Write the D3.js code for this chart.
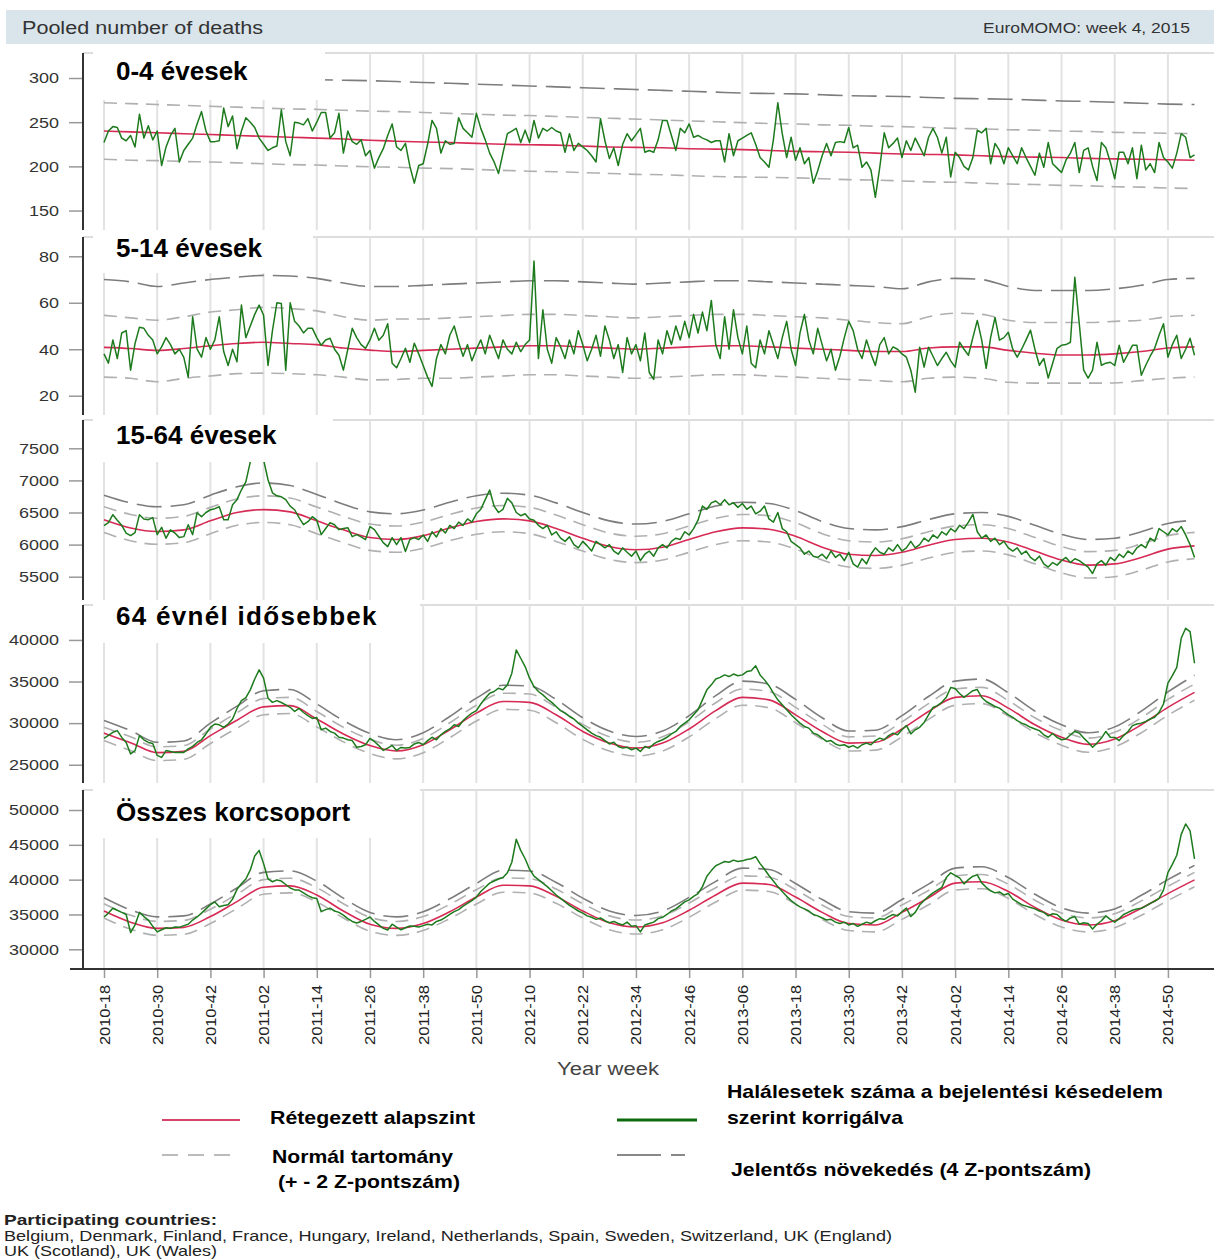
<!DOCTYPE html>
<html><head><meta charset="utf-8">
<script src="https://cdn.jsdelivr.net/npm/d3@7"></script>
<style>body{margin:0;background:#fff}svg{display:block;font-family:"Liberation Sans",Arial,sans-serif}</style>
</head><body><svg id="c" width="1214" height="1260"></svg>
<script>
// ---------- DATA ----------
const weekLabels = ["2010-18","2010-30","2010-42","2011-02","2011-14","2011-26","2011-38","2011-50","2012-10","2012-22","2012-34","2012-46","2013-06","2013-18","2013-30","2013-42","2014-02","2014-14","2014-26","2014-38","2014-50"];
// band/baseline samples taken every 6 weeks (week index 0..240) plus the last week 246
const bandWeeks = [0,6,12,18,24,30,36,42,48,54,60,66,72,78,84,90,96,102,108,114,120,126,132,138,144,150,156,162,168,174,180,186,192,198,204,210,216,222,228,234,240,246];

const deaths04 = [227,240,245,244,232,229,235,222,259,232,
246,230,240,201,222,235,243,205,218,225,
232,248,262,240,228,228,229,266,245,257,
220,240,255,250,244,232,225,218,221,223,
264,228,212,250,249,247,254,240,250,261,
261,232,238,260,215,240,228,225,230,212,
218,198,210,220,235,248,222,218,226,200,
181,201,203,225,252,243,215,229,225,226,
255,243,238,233,260,243,230,215,205,192,
215,237,240,243,227,241,227,252,232,243,
240,244,240,238,216,237,218,226,222,218,
212,205,254,229,209,221,201,225,237,229,
236,243,216,218,216,230,252,252,235,218,
243,238,248,233,235,232,230,227,229,229,
205,237,212,229,232,235,238,225,210,205,
199,230,272,237,210,233,207,221,203,210,
181,195,212,226,212,227,228,227,244,221,
224,199,205,196,165,199,238,221,226,232,
210,229,218,232,222,212,233,243,233,215,
233,188,216,210,200,196,210,241,238,243,
203,226,218,203,221,212,203,221,210,200,
190,215,199,227,203,198,193,207,215,227,
193,218,221,200,184,227,221,205,186,216,
216,203,221,186,224,196,203,193,227,210,
205,198,215,237,233,210,213];
const base04 = [240,239,238,237,236,235,234,233,232,231,229.5,228.5,227.5,227,226,225,224.5,224,223,222,221.5,221,220,219.5,219,218,217,216.5,216,215,214,213.5,213,212,211,210.5,210,209,208.5,208,207.5,207];
const hi2_04 = [272,271,270,269,268,267,266,265,264.5,263.5,262.5,262,261,260,259,258,257.5,256.5,255.5,254.5,253.5,252.5,251.5,250.5,249.5,248.5,248,247,246.5,245.5,245,244,243,242.5,241.5,241,240,239.5,238.5,238,237.5,237];
const lo2_04 = [208,207,206.5,205.5,205,204,203,202,201.5,200.5,199.5,199,198,197.5,196.5,195.5,194.5,194,193,192,191,190.5,189.5,188.5,188,187.5,187,186,185,184.5,183.5,182.5,182,181,180,179.5,178.5,178,177,176.5,175.5,175];
const hi4_04 = [305,304,303,302,301,300,299.5,299,298,297.5,297,296,295,294,293,292,291,290,289,288,287,286,285,284,283,282.5,282,281,280,279.5,279,278,277,276.5,276,275,274,273.5,272.5,271.5,270.5,270];

const deaths514 = [38,34,44,36,47,48,31,42.5,49.5,49,
46,44,38,41,45,42,38,40,36.5,28,
54,40,36.6,45,40,44,54,39,33,40,
34.6,59,45,50,55,59,54.6,33,48,60,
59.7,31,60,52,50,47,49,49,45,41.7,
44,44.7,40,37.4,31,40,49,45,42,40.4,
44,49,43.9,46,51,34,32,36,40.4,34.4,
42.6,38,33,28,24,36,42,38,46,50,
43,37,42,35,40,44,38,46,41,36,
44,40,38,43,39,42,44,78,36,57,
40,34,45,41,36,44,38,48,42,35,
40,46,37,50,44,36,42,30,45,38,
42,35,47,30,27,44,38,48,42,50,
44,52,45,55,47,56,48,61,42,36,
54,40,57,45,38,50,34,32,44,38,
48,42,36,45,52,40,33,47,55,44,
38,49,42,35,40,31,37,45,52,48,
40,36,44,38,33,42,45,38,41,40,
38,36.6,31,21.5,40.9,32.3,40.9,37,33,36,
38.7,35,32.3,43,40,37.4,45,52.4,43.9,31.8,
45,53.7,43.9,45,47.3,40,36.6,40,44,48.2,
40,33.1,36,27.6,34,40.4,41.7,42,43,71,
51,31,27.6,31,43,33.1,34,34.4,33,41.7,
34.4,38,41.7,41.7,28.8,33.1,37,40.4,46,51,
36.6,42,46,36,40,44.7,37.4];
const base514 = [40.8,40.3,39.5,40.3,41.5,42.5,43,42.5,42,40.5,39.6,39,39.5,40,40.5,41,41.5,41.5,41,40.5,40,40.5,41,41.5,41.5,41,40.5,40,39.5,39,39,40.5,41,41,39.5,38.3,37.5,37.5,38,39,40.5,41];
const hi2_514 = [54.6,53.5,52.5,54,56,57,58,57.5,56.5,54,52.5,53,53,53.5,54,54.5,55,55,54.5,54,53.5,54,54.5,55,55,54.5,54,53.5,52.5,51.5,51,54,55.5,55,52.5,51.5,51.5,51.5,52,52.5,54,54.6];
const lo2_514 = [28,27.5,26,27.5,28.5,29.5,29.7,29.5,29,28,26.8,27,27.5,27.5,28,28.5,29,29,28.5,28,27.5,28,28.5,29,29,28.5,28,27.5,27,26.5,26,27.5,28,27.5,25.8,25.4,25.4,25.4,25.5,26.5,27.5,28];
const hi4_514 = [70,69,67,68.5,70,71,71.8,71.5,70.5,68.5,67,67,67.5,68,68.5,69,69.5,69.5,69,68.5,68,68.5,69,69.5,69.5,69,68.5,68,67.5,67,66,69,70.5,70,67,65.3,65.3,65.3,66,67.5,70,70.5];

const deaths1564 = [6295,6342,6466,6380,6300,6180,6140,6186,6466,6400,
6388,6420,6155,6270,6100,6230,6180,6109,6124,6310,
6155,6497,6435,6500,6543,6560,6590,6388,6388,6620,
6700,6854,6978,7290,7600,7550,7320,7010,6807,6760,
6745,6700,6600,6543,6420,6310,6357,6435,6380,6155,
6250,6342,6310,6233,6250,6264,6124,6155,6120,6078,
6280,6233,6130,6031,5969,6109,6000,6109,5891,6078,
6109,6080,6150,6050,6200,6120,6250,6180,6300,6250,
6350,6300,6400,6350,6480,6550,6700,6850,6600,6500,
6550,6720,6650,6500,6450,6480,6400,6380,6300,6250,
6300,6150,6200,6100,6050,6120,6000,5950,6050,5980,
5900,6050,6000,5950,6000,5900,5850,5950,5880,5820,
5900,5750,5850,5900,5820,5950,6000,5950,6050,6100,
6080,6200,6150,6250,6380,6600,6550,6650,6680,6620,
6700,6620,6650,6580,6640,6550,6600,6480,6520,6600,
6400,6350,6500,6250,6200,6050,6000,5950,5850,5900,
5820,5800,5850,5780,5900,5800,5850,5750,5880,5700,
5650,5780,5700,5850,5950,5880,5850,5950,5900,6000,
5900,5950,6050,5950,6000,6100,6050,6150,6100,6200,
6150,6250,6200,6300,6250,6350,6470,6200,6100,6150,
6050,6100,6000,6050,5950,5900,5950,5850,5900,5800,
5750,5820,5700,5650,5720,5680,5750,5800,5720,5780,
5750,5700,5650,5550,5700,5750,5680,5800,5750,5850,
5800,5900,5850,5950,6000,5950,6100,6050,6250,6200,
6150,6250,6200,6280,6150,6000,5800];
const base1564 = [6388,6260,6205,6230,6370,6500,6545,6510,6370,6230,6110,6080,6140,6260,6360,6400,6370,6250,6100,5970,5920,5960,6080,6200,6260,6240,6130,5960,5850,5830,5880,5990,6080,6100,6040,5900,5760,5680,5700,5800,5930,5980];
const hi2_1564 = [6590,6470,6410,6440,6580,6710,6760,6725,6585,6440,6320,6290,6350,6470,6570,6610,6580,6460,6310,6180,6130,6170,6290,6410,6470,6450,6340,6170,6060,6040,6090,6200,6290,6310,6250,6110,5970,5890,5910,6010,6140,6190];
const lo2_1564 = [6190,6060,6005,6030,6170,6300,6345,6310,6170,6030,5910,5880,5940,6060,6160,6200,6170,6050,5900,5770,5720,5760,5880,6000,6060,6040,5930,5760,5650,5630,5680,5790,5880,5900,5840,5700,5560,5480,5500,5600,5730,5780];
const hi4_1564 = [6770,6650,6590,6620,6770,6900,6960,6920,6780,6630,6510,6480,6540,6660,6760,6800,6770,6650,6500,6370,6320,6360,6480,6600,6660,6640,6530,6360,6250,6230,6280,6390,6480,6500,6440,6300,6160,6080,6100,6200,6330,6380];

const deaths65 = [28160,28520,28900,29100,28280,27680,26300,26700,28500,28000,
27680,27560,26120,25880,26700,26600,26480,26500,26480,26900,
27200,27680,28000,28700,29480,29900,29800,29480,29900,30500,
31760,32720,33080,34000,35300,36400,35400,33000,32500,32700,
32480,32200,31900,31400,31760,31280,30900,30560,30680,29200,
29400,29000,28800,28300,28200,28000,27900,27100,27200,27400,
28160,27800,27300,26720,27000,27320,26720,27080,27000,27080,
27500,27680,27400,27900,28300,28000,28600,29000,29300,29800,
29600,30300,30800,31200,31500,32300,33000,33600,33800,34200,
34000,34600,36000,38800,37800,36800,35400,34400,33800,33400,
32900,32500,32000,31500,31200,30800,30500,30000,29600,29200,
28800,28500,28300,27900,27500,27700,27200,27000,27100,26800,
27000,26600,27200,27000,27500,27800,28000,28300,28700,29000,
29600,30000,30400,31000,31600,32800,34000,34600,35300,35500,
35800,35600,35900,35700,35800,36200,36300,36900,35800,35200,
34500,33600,32800,32200,31600,31000,30500,30000,29600,29400,
28800,28600,28200,27800,27900,27500,27300,27400,27100,27300,
27000,27400,27600,27400,27900,28200,28000,28500,28800,28600,
29200,29720,28700,29200,29500,30080,31000,31880,32100,32500,
33100,34280,34160,33560,33100,33500,33900,34040,33080,32600,
32300,32000,31800,31400,31000,30700,30300,30000,29800,29500,
29300,29100,28600,28300,28760,28280,28000,28100,28600,29000,
28800,28200,27700,27100,27600,28200,29000,28300,28280,27900,
28500,29000,29700,29900,30000,30200,30500,30700,31300,32300,
34800,35700,36700,40200,41400,41000,37200];
const base65 = [28800,27650,26450,26600,28500,30350,31950,32100,30500,28700,27300,26650,27400,29200,31200,32600,32500,31000,29000,27600,27000,27600,29300,31500,33100,32800,31000,29000,27600,27700,29300,31400,33100,33300,31800,29800,28300,27450,28100,29800,31900,33700];
const hi2_65 = [29500,28350,27150,27300,29300,31250,32950,33100,31400,29500,28050,27350,28150,30050,32150,33600,33500,31900,29850,28350,27700,28350,30150,32450,34100,33800,31900,29850,28350,28450,30150,32350,34100,34300,32700,30650,29100,28200,28900,30650,32850,34700];
const lo2_65 = [27900,26700,25500,25650,27550,29400,31000,31150,29550,27750,26350,25700,26450,28250,30250,31650,31550,30050,28050,26650,26050,26650,28350,30550,32150,31850,30050,28050,26650,26750,28350,30450,32150,32350,30850,28850,27350,26500,27150,28850,30950,32750];
const hi4_65 = [30320,29100,27700,27850,30000,32050,33900,34050,32300,30300,28750,28000,28850,30800,33000,34550,34450,32850,30650,29050,28400,29050,30900,33300,35050,34700,32850,30650,29050,29150,30900,33200,35050,35300,33650,31450,29800,28850,29550,31450,33750,35750];

const deathsAll = [34640,35200,35900,35600,35300,35000,32400,33500,35300,34700,
34200,33300,32500,32800,33100,33000,33200,33150,33400,33600,
34200,34640,35200,35800,36400,36800,36100,36300,36400,37200,
38600,39400,40100,41400,43400,44200,42300,40100,39700,39970,
39800,39300,38800,38530,38500,38100,37700,37400,37300,35400,
35700,35900,35500,35300,34900,34400,34000,33780,34000,34300,
34640,34000,33500,33000,32780,33600,33200,32800,33100,33350,
33300,33200,33400,33600,33500,34000,34200,34600,35000,35400,
35700,36200,36600,37000,37500,38300,38900,39500,39800,40100,
40300,41000,42500,45800,44200,43000,41500,40500,40000,39500,
39000,38400,37800,37300,36800,36300,35900,35500,35200,34800,
34600,34300,34500,34100,33800,34000,33700,33500,33900,33300,
33400,32500,33500,33700,33900,34400,34600,35000,35500,35800,
36300,36800,37100,37600,38000,39000,40500,41300,42000,42300,
42600,42500,42800,42600,42700,42900,43000,43300,42300,41500,
40600,39800,39000,38300,37600,37000,36500,36100,35800,35500,
35000,34800,34500,34200,34300,33900,33700,33900,33500,33700,
33300,33600,33900,33700,34100,34400,34300,34700,35000,34800,
35400,35930,34700,35300,36360,37000,37600,38100,38500,38900,
40300,40980,40600,40260,39400,40000,40500,40690,39540,38900,
38400,38100,38240,37800,38000,37200,36800,36400,36200,36000,
35800,35500,35300,34800,35100,35000,34400,34000,34500,34700,
33600,33800,33700,32900,33600,34100,34800,34300,33900,34400,
35000,35300,35600,35800,35900,36200,36600,36900,37300,38500,
41000,42200,43500,46500,48000,47000,43000];
const baseAll = [35500,33900,33000,33150,34700,36850,38900,39100,37800,35500,33600,33000,33700,35400,37500,39200,39100,37600,35500,33800,33200,33800,35600,37800,39500,39300,37500,35300,33700,33500,35300,37400,39500,39700,38300,36000,34200,33500,34100,35900,38000,39970];
const hi2_All = [36550,34900,34000,34150,35750,37900,40000,40200,38850,36550,34600,34000,34700,36450,38550,40250,40150,38650,36550,34800,34200,34800,36650,38850,40550,40350,38550,36350,34700,34500,36350,38450,40550,40750,39350,37050,35200,34500,35100,36950,39050,41050];
const lo2_All = [34500,32900,32000,32150,33700,35850,37900,38100,36800,34500,32600,32000,32700,34400,36500,38200,38100,36600,34500,32800,32200,32800,34600,36800,38500,38300,36500,34300,32700,32500,34300,36400,38500,38700,37300,35000,33200,32500,33100,34900,37000,38970];
const hi4_All = [37400,35650,34650,34800,36500,38800,41050,41250,39800,37350,35300,34650,35400,37250,39450,41350,41250,39600,37350,35500,34850,35500,37450,39750,41650,41450,39450,37150,35400,35200,37150,39350,41650,41850,40300,37900,35950,35200,35800,37750,40000,42050];

const titles = ["0-4 évesek","5-14 évesek","15-64 évesek","64 évnél idősebbek","Összes korcsoport"];
const yTicks = [[150,200,250,300],[20,40,60,80],[5500,6000,6500,7000,7500],[25000,30000,35000,40000],[30000,35000,40000,45000,50000]];

// ---------- LAYOUT ----------
const panels = [
  {deaths:deaths04, base:base04, hi2:hi2_04, lo2:lo2_04, hi4:hi4_04, top:53, bottom:230, dom:[128,328.3], boxR:325, boxB:100, ty:80, ls:0},
  {deaths:deaths514, base:base514, hi2:hi2_514, lo2:lo2_514, hi4:hi4_514, top:237, bottom:415, dom:[11.7,88.3], boxR:313, boxB:273, ty:257, ls:0},
  {deaths:deaths1564, base:base1564, hi2:hi2_1564, lo2:lo2_1564, hi4:hi4_1564, top:420, bottom:600, dom:[5137,7941], boxR:333, boxB:462, ty:444, ls:0},
  {deaths:deaths65, base:base65, hi2:hi2_65, lo2:lo2_65, hi4:hi4_65, top:605, bottom:783, dom:[22804,44200], boxR:420, boxB:643, ty:625, ls:1.3},
  {deaths:deathsAll, base:baseAll, hi2:hi2_All, lo2:lo2_All, hi4:hi4_All, top:790, bottom:969, dom:[27172,52872], boxR:420, boxB:838, ty:821, ls:0}
];

const svg = d3.select("#c");
const AXX = 83, RIGHT = 1214;
const x = d3.scaleLinear().domain([0, 246]).range([104, 104 + 246 * 4.433]);
const tickWeeks = weekLabels.map((d, i) => i * 12);

// header
svg.append("rect").attr("x", 6).attr("y", 10).attr("width", 1208).attr("height", 34).attr("fill", "#d9e4eb");
svg.append("text").attr("x", 22).attr("y", 34).attr("font-size", 18).attr("fill", "#333")
  .attr("textLength", 241).attr("lengthAdjust", "spacingAndGlyphs").text("Pooled number of deaths");
svg.append("text").attr("x", 1190).attr("y", 33).attr("font-size", 14).attr("fill", "#333").attr("text-anchor", "end")
  .attr("textLength", 207).attr("lengthAdjust", "spacingAndGlyphs").text("EuroMOMO: week 4, 2015");

panels.forEach((p, pi) => {
  const y = d3.scaleLinear().domain(p.dom).range([p.bottom, p.top]);
  const g = svg.append("g");
  // top border
  g.append("line").attr("x1", AXX).attr("x2", RIGHT).attr("y1", p.top).attr("y2", p.top).attr("stroke", "#ddd").attr("stroke-width", 2);
  // gridlines
  g.selectAll(".grid").data(tickWeeks).join("line")
    .attr("x1", d => x(d)).attr("x2", d => x(d)).attr("y1", p.top).attr("y2", p.bottom)
    .attr("stroke", "#e2e2e2").attr("stroke-width", 2);
  const band = arr => d3.line().x((v, i) => x(bandWeeks[i])).y(v => y(v)).curve(d3.curveMonotoneX)(arr);
  g.append("path").attr("d", band(p.hi4)).attr("fill", "none").attr("stroke", "#7d7d7d").attr("stroke-width", 1.6).attr("stroke-dasharray", "25,9");
  g.append("path").attr("d", band(p.hi2)).attr("fill", "none").attr("stroke", "#b0b0b0").attr("stroke-width", 1.6).attr("stroke-dasharray", "13,8");
  g.append("path").attr("d", band(p.lo2)).attr("fill", "none").attr("stroke", "#b0b0b0").attr("stroke-width", 1.6).attr("stroke-dasharray", "13,8");
  g.append("path").attr("d", band(p.base)).attr("fill", "none").attr("stroke", "#d62b55").attr("stroke-width", 1.6);
  const dl = d3.line().x((v, i) => x(i)).y(v => y(v));
  g.append("path").attr("d", dl(p.deaths)).attr("fill", "none").attr("stroke", "#1d7a1d").attr("stroke-width", 1.5).attr("stroke-linejoin", "round");
  // title box
  g.append("rect").attr("x", 93).attr("y", p.top - 1).attr("width", p.boxR - 93).attr("height", p.boxB - p.top + 1).attr("fill", "#fff");
  g.append("text").attr("x", 116).attr("y", p.ty).attr("font-size", 26).attr("font-weight", "bold").attr("fill", "#000")
    .attr("letter-spacing", p.ls).text(titles[pi]);
  // y axis
  const ax = d3.axisLeft(y).tickValues(yTicks[pi]).tickSize(13).tickPadding(10).tickFormat(d3.format("d"));
  const ag = g.append("g").attr("transform", `translate(${AXX - 1},0)`).call(ax);
  ag.select(".domain").remove();
  ag.selectAll(".tick line").attr("stroke", "#999").attr("stroke-width", 1.5);
  ag.selectAll(".tick text").attr("font-size", 15).attr("fill", "#333").attr("font-family", "Liberation Sans, Arial, sans-serif")
    .attr("textLength", d => String(d).length * 10).attr("lengthAdjust", "spacingAndGlyphs");
  g.append("line").attr("x1", AXX).attr("x2", AXX).attr("y1", p.top).attr("y2", p.bottom).attr("stroke", "#333").attr("stroke-width", 2);
});

// bottom x axis
const xa = d3.axisBottom(x).tickValues(tickWeeks).tickSize(9).tickFormat((d, i) => weekLabels[i]);
const xg = svg.append("g").attr("transform", "translate(0,969)").call(xa);
xg.select(".domain").remove();
xg.selectAll(".tick line").attr("stroke", "#999").attr("stroke-width", 1.5);
xg.selectAll(".tick text").attr("font-size", 14).attr("fill", "#222").attr("font-family", "Liberation Sans, Arial, sans-serif")
  .attr("text-anchor", "end").attr("dy", null).attr("y", 0).attr("x", 0)
  .attr("transform", "translate(5,16) rotate(-90)")
  .attr("textLength", 60).attr("lengthAdjust", "spacingAndGlyphs");
svg.append("line").attr("x1", 70).attr("x2", RIGHT).attr("y1", 969).attr("y2", 969).attr("stroke", "#333").attr("stroke-width", 2);

svg.append("text").attr("x", 608).attr("y", 1075).attr("text-anchor", "middle").attr("font-size", 18).attr("fill", "#444")
  .attr("textLength", 102).attr("lengthAdjust", "spacingAndGlyphs").text("Year week");

// legend
const lg = svg.append("g").attr("font-weight", "bold").attr("font-size", 19).attr("fill", "#000");
lg.append("line").attr("x1", 162).attr("x2", 240).attr("y1", 1120).attr("y2", 1120).attr("stroke", "#d64468").attr("stroke-width", 2);
lg.append("text").attr("x", 270).attr("y", 1124).attr("textLength", 205).attr("lengthAdjust", "spacingAndGlyphs").text("Rétegezett alapszint");
lg.append("line").attr("x1", 162).attr("x2", 232).attr("y1", 1155).attr("y2", 1155).attr("stroke", "#bbb").attr("stroke-width", 2).attr("stroke-dasharray", "16,10");
lg.append("text").attr("x", 272).attr("y", 1163).attr("textLength", 181).attr("lengthAdjust", "spacingAndGlyphs").text("Normál tartomány");
lg.append("text").attr("x", 278).attr("y", 1188).attr("textLength", 182).attr("lengthAdjust", "spacingAndGlyphs").text("(+ - 2 Z-pontszám)");
lg.append("line").attr("x1", 617).attr("x2", 697).attr("y1", 1120).attr("y2", 1120).attr("stroke", "#0d6b0d").attr("stroke-width", 3);
lg.append("text").attr("x", 727).attr("y", 1098).attr("textLength", 436).attr("lengthAdjust", "spacingAndGlyphs").text("Halálesetek száma a bejelentési késedelem");
lg.append("text").attr("x", 727).attr("y", 1124).attr("textLength", 176).attr("lengthAdjust", "spacingAndGlyphs").text("szerint korrigálva");
lg.append("line").attr("x1", 617).attr("x2", 697).attr("y1", 1155).attr("y2", 1155).attr("stroke", "#888").attr("stroke-width", 2).attr("stroke-dasharray", "44,10,14,100");
lg.append("text").attr("x", 731).attr("y", 1176).attr("textLength", 360).attr("lengthAdjust", "spacingAndGlyphs").text("Jelentős növekedés (4 Z-pontszám)");

// footer
svg.append("text").attr("x", 4).attr("y", 1225).attr("font-size", 15).attr("font-weight", "bold").attr("fill", "#222")
  .attr("textLength", 213).attr("lengthAdjust", "spacingAndGlyphs").text("Participating countries:");
svg.append("text").attr("x", 4).attr("y", 1241).attr("font-size", 15).attr("fill", "#222")
  .attr("textLength", 888).attr("lengthAdjust", "spacingAndGlyphs").text("Belgium, Denmark, Finland, France, Hungary, Ireland, Netherlands, Spain, Sweden, Switzerland, UK (England)");
svg.append("text").attr("x", 4).attr("y", 1256).attr("font-size", 15).attr("fill", "#222")
  .attr("textLength", 213).attr("lengthAdjust", "spacingAndGlyphs").text("UK (Scotland), UK (Wales)");
</script></body></html>
